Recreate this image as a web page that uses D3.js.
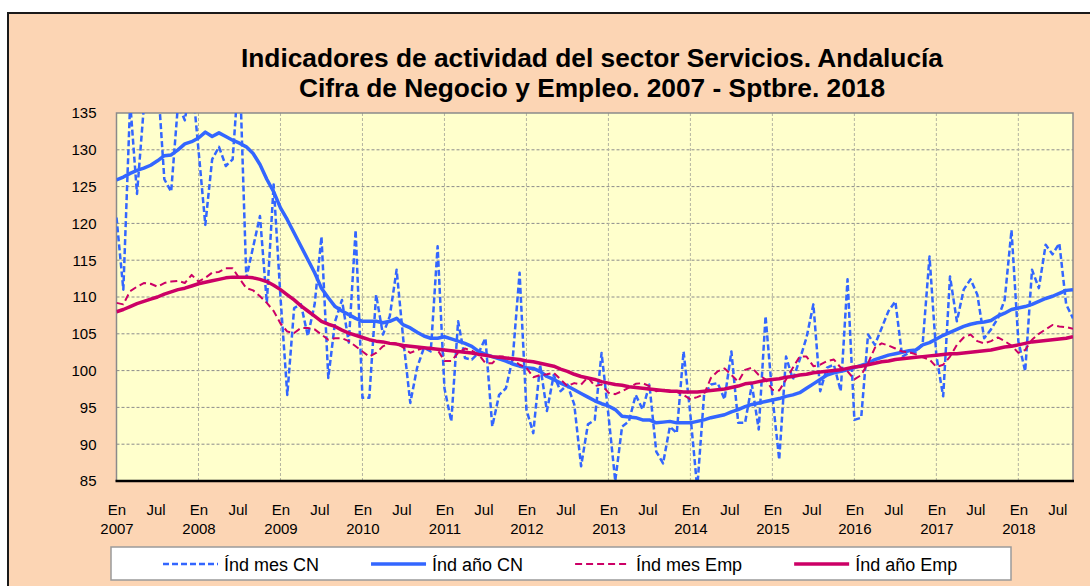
<!DOCTYPE html>
<html>
<head>
<meta charset="utf-8">
<script src="https://cdn.jsdelivr.net/npm/d3@7"></script>
<style>
  body { margin: 0; background: #ffffff; }
  svg { display: block; font-family: "Liberation Sans", Arial, sans-serif; }
</style>
</head>
<body>
<div id="chart"></div>
<script>
// ---- data (monthly, En 2007 - Sep 2018) ----
var years = [2007, 2008, 2009, 2010, 2011, 2012, 2013, 2014, 2015, 2016, 2017, 2018];
var monthLabels = ["En", "Jul"];
var yTicks = [85, 90, 95, 100, 105, 110, 115, 120, 125, 130, 135];
var seriesNames = ["Índ mes CN", "Índ año CN", "Índ mes Emp", "Índ año Emp"];

var mesCN = [
  120.8, 111.0, 136.5, 124.0, 135.8, 142.0, 140.0, 126.0, 124.3, 136.2, 134.0, 140.0,
  130.0, 119.8, 128.7, 130.4, 127.8, 128.7, 142.0, 112.6, 116.8, 121.0, 109.2, 125.3,
  110.0, 96.7, 108.5, 109.0, 104.7, 109.0, 118.2, 99.0, 106.7, 109.6, 103.8, 119.1,
  96.3, 96.3, 110.3, 104.9, 107.4, 113.7, 104.0, 95.6, 100.4, 103.1, 102.6, 116.9,
  97.6, 93.1, 106.7, 101.7, 101.5, 102.4, 104.4, 92.4, 96.7, 97.6, 101.7, 113.3,
  94.7, 91.5, 100.8, 94.5, 99.4, 97.2, 98.1, 95.4, 87.0, 92.7, 93.3, 102.4,
  94.0, 85.0, 92.4, 93.1, 96.7, 94.7, 98.1, 89.0, 87.4, 92.4, 91.5, 102.6,
  94.0, 84.0, 96.7, 98.1, 98.3, 96.1, 102.6, 92.9, 92.9, 98.1, 92.0, 107.4,
  96.5, 87.9, 101.9, 98.8, 101.5, 104.5, 109.0, 97.2, 100.4, 100.8, 97.2, 112.4,
  93.3, 93.6, 104.9, 103.5, 105.8, 108.1, 109.4, 101.9, 102.4, 102.5, 103.7, 115.5,
  102.0, 96.5, 112.8, 106.7, 111.0, 112.4, 110.3, 104.4, 105.6, 107.1, 109.6, 119.1,
  104.0, 99.9, 113.7, 111.2, 117.1, 115.8, 117.3, 109.0, 107.1
];

var anoCN = [
  125.9, 126.3, 126.8, 127.2, 127.5, 127.9, 128.5, 129.2, 129.3, 130.0, 130.8, 131.1,
  131.6, 132.4, 131.8, 132.3, 131.8, 131.3, 130.9, 130.4, 129.5, 128.0, 126.0, 124.3,
  122.1, 120.5, 118.7, 116.9, 115.1, 113.3, 111.2, 109.9, 108.7, 108.1, 107.6, 107.1,
  106.7, 106.7, 106.7, 106.5, 106.7, 107.1, 106.2, 105.8, 105.2, 104.7, 104.4, 104.4,
  104.6, 104.3, 104.0, 103.7, 103.3, 102.6, 102.2, 101.9, 101.6, 101.3, 100.9, 100.6,
  100.4, 100.3, 99.9, 99.2, 98.8, 98.3, 97.9, 97.4, 96.9, 96.4, 95.9, 95.5,
  95.2, 94.7, 93.8, 93.7, 93.6, 93.3, 93.3, 92.9, 93.0, 93.1, 92.9, 92.9,
  92.9, 93.1, 93.3, 93.6, 93.8, 94.0, 94.4, 94.7, 95.1, 95.4, 95.6, 95.8,
  96.0, 96.2, 96.5, 96.7, 97.0, 97.6, 98.2, 98.8, 99.4, 99.7, 99.9, 100.1,
  100.4, 100.7, 101.0, 101.5, 101.8, 102.1, 102.3, 102.5, 102.7, 102.8, 103.5, 103.8,
  104.3, 104.8, 105.2, 105.6, 106.0, 106.3, 106.5, 106.6, 106.8, 107.4, 107.8, 108.3,
  108.5, 108.7, 109.0, 109.4, 109.8, 110.1, 110.5, 110.9, 111.0
];

var mesEmp = [
  109.2, 109.0, 110.8, 111.4, 111.9, 111.8, 111.4, 111.9, 112.1, 112.2, 111.9, 113.0,
  112.1, 112.6, 113.3, 113.4, 113.9, 113.9, 112.5, 111.2, 110.9, 110.1, 109.2, 108.1,
  106.4, 105.3, 105.1, 105.8, 105.8, 105.6, 104.9, 104.2, 104.4, 104.4, 104.0, 103.3,
  102.6, 101.9, 102.4, 103.3, 103.7, 103.7, 103.1, 102.4, 102.8, 103.1, 103.1, 102.8,
  101.3, 101.3, 102.4, 103.0, 102.7, 102.2, 101.0, 101.0, 101.9, 101.9, 101.5, 100.8,
  100.4, 99.1, 99.4, 99.5, 99.7, 98.8, 97.9, 98.3, 98.1, 99.1, 97.9, 98.1,
  97.0, 96.8, 97.2, 97.7, 98.2, 98.3, 97.9, 97.2, 97.4, 97.3, 97.1, 96.7,
  96.1, 96.4, 96.8, 99.0, 99.9, 100.3, 99.4, 98.5, 100.1, 100.4, 99.4, 98.8,
  97.4, 97.3, 98.8, 100.4, 101.9, 101.9, 100.6, 100.8, 101.3, 101.5, 100.4, 99.9,
  98.8, 99.4, 101.0, 103.1, 103.7, 103.4, 103.0, 102.6, 102.5, 102.2, 101.8, 101.5,
  100.5, 100.8, 101.9, 103.5, 104.5, 104.9, 104.0, 103.7, 104.0, 104.5, 104.0, 103.4,
  102.4, 102.8, 104.2, 105.0, 105.6, 106.2, 106.0, 105.9, 105.7
];

var anoEmp = [
  108.0, 108.3, 108.7, 109.1, 109.4, 109.7, 110.0, 110.4, 110.7, 111.0, 111.2, 111.5,
  111.8, 112.0, 112.2, 112.4, 112.6, 112.7, 112.7, 112.7, 112.6, 112.4, 112.1, 111.6,
  111.0, 110.3, 109.6, 108.8, 108.1, 107.4, 106.7, 106.3, 106.0, 105.5, 105.1, 104.8,
  104.5, 104.2, 104.0, 103.9, 103.7, 103.6, 103.4, 103.3, 103.2, 103.1, 103.0, 102.9,
  102.8, 102.7, 102.6, 102.5, 102.4, 102.2, 102.1, 101.9, 101.8, 101.7, 101.6, 101.5,
  101.3, 101.2, 101.0, 100.8, 100.6, 100.2, 99.9, 99.5, 99.2, 99.0, 98.8, 98.5,
  98.3, 98.1, 98.0, 97.8, 97.7, 97.6, 97.5, 97.4, 97.3, 97.2, 97.2, 97.1,
  97.1, 97.1, 97.2, 97.3, 97.4, 97.5, 97.7, 97.9, 98.2, 98.3, 98.5, 98.7,
  98.8, 98.9, 99.1, 99.2, 99.4, 99.5, 99.7, 99.8, 99.9, 100.0, 100.1, 100.3,
  100.5, 100.6, 100.8, 101.0, 101.2, 101.3, 101.5, 101.6, 101.7, 101.8, 101.9, 102.0,
  102.1, 102.2, 102.3, 102.3, 102.4, 102.5, 102.6, 102.7, 102.8, 103.0, 103.2, 103.3,
  103.5, 103.7, 103.9, 104.0, 104.1, 104.2, 104.3, 104.4, 104.6
];

var width = 1090, height = 586;
var blue = "#3366ff", magenta = "#cc0066";

var plot = {left: 116.5, right: 1073, top: 113, bottom: 481};

var x = d3.scaleLinear().domain([0, mesCN.length - 1]).range([plot.left, plot.right]);
var y = d3.scaleLinear().domain([85, 135]).range([plot.bottom, plot.top]);

var svg = d3.select("#chart").append("svg")
    .attr("width", width)
    .attr("height", height);

// outer frame
svg.append("rect")
    .attr("x", 8).attr("y", 13)
    .attr("width", 1200).attr("height", 700)
    .attr("fill", "#fcd5b4")
    .attr("stroke", "#1a1a1a")
    .attr("stroke-width", 2);

// title
var title = svg.append("g")
    .attr("font-weight", "bold")
    .attr("font-size", 26.3)
    .attr("text-anchor", "middle");
title.append("text").attr("x", 592).attr("y", 67)
    .text("Indicadores de actividad del sector Servicios. Andalucía");
title.append("text").attr("x", 592).attr("y", 97)
    .text("Cifra de Negocio y Empleo. 2007 - Sptbre. 2018");

// plot area
svg.append("rect")
    .attr("x", plot.left).attr("y", plot.top)
    .attr("width", plot.right - plot.left)
    .attr("height", plot.bottom - plot.top)
    .attr("fill", "#ffffcc");

svg.append("defs").append("clipPath").attr("id", "clip")
  .append("rect")
    .attr("x", plot.left).attr("y", plot.top)
    .attr("width", plot.right - plot.left)
    .attr("height", plot.bottom - plot.top);

// grid
var grid = svg.append("g");
grid.selectAll("line.h")
    .data(yTicks.filter(function(d) { return d > 85 && d < 135; }))
    .enter().append("line")
    .attr("x1", plot.left).attr("x2", plot.right)
    .attr("y1", function(d) { return y(d); })
    .attr("y2", function(d) { return y(d); })
    .attr("stroke", "#8c8c8c")
    .attr("stroke-width", 1)
    .attr("stroke-dasharray", "3,2");

grid.selectAll("line.v")
    .data(years.slice(1))
    .enter().append("line")
    .attr("x1", function(d, i) { return x((i + 1) * 12); })
    .attr("x2", function(d, i) { return x((i + 1) * 12); })
    .attr("y1", plot.top).attr("y2", plot.bottom)
    .attr("stroke", "#b4b4a0")
    .attr("stroke-width", 1)
    .attr("stroke-dasharray", "3,2");

// plot border (top, right, left)
svg.append("path")
    .attr("d", "M" + plot.left + "," + plot.bottom + "V" + plot.top + "H" + plot.right + "V" + plot.bottom)
    .attr("fill", "none")
    .attr("stroke", "#8a8a8a")
    .attr("stroke-width", 1.5);

// series
var line = d3.line()
    .x(function(d, i) { return x(i); })
    .y(function(d) { return y(d); });

var series = [
  {values: mesCN, color: blue, width: 2.5, dash: "6,3"},
  {values: anoCN, color: blue, width: 3.5, dash: null},
  {values: mesEmp, color: magenta, width: 2, dash: "7,4"},
  {values: anoEmp, color: magenta, width: 3.5, dash: null}
];

var lines = svg.append("g").attr("clip-path", "url(#clip)");
lines.selectAll("path")
    .data(series)
    .enter().append("path")
    .attr("d", function(s) { return line(s.values); })
    .attr("fill", "none")
    .attr("stroke", function(s) { return s.color; })
    .attr("stroke-width", function(s) { return s.width; })
    .attr("stroke-dasharray", function(s) { return s.dash; })
    .attr("stroke-linejoin", "round");

// bottom axis line
svg.append("line")
    .attr("x1", plot.left - 1).attr("x2", plot.right + 1)
    .attr("y1", plot.bottom).attr("y2", plot.bottom)
    .attr("stroke", "#000")
    .attr("stroke-width", 2.5);

// y axis
var yAxis = d3.axisLeft(y).tickValues(yTicks).tickSize(0).tickPadding(20);
var gy = svg.append("g")
    .attr("transform", "translate(" + plot.left + ",0)")
    .call(yAxis);
gy.select(".domain").remove();
gy.selectAll("text")
    .attr("font-family", "'Liberation Sans', Arial, sans-serif")
    .attr("font-size", 15)
    .attr("fill", "#000");

// x axis
var xTicks = d3.range(0, mesCN.length, 6);
var xAxis = d3.axisBottom(x).tickValues(xTicks).tickSize(0)
    .tickFormat(function(d) { return monthLabels[(d % 12) / 6]; });
var gx = svg.append("g")
    .attr("transform", "translate(0," + plot.bottom + ")")
    .call(xAxis);
gx.select(".domain").remove();
gx.selectAll("text")
    .attr("font-family", "'Liberation Sans', Arial, sans-serif")
    .attr("font-size", 15)
    .attr("fill", "#000")
    .attr("dy", null)
    .attr("y", 34)
    .attr("x", function(d) { return d % 12 === 0 ? 0 : -2; });
gx.selectAll(".tick")
    .filter(function(d) { return d % 12 === 0; })
    .append("text")
    .attr("font-family", "'Liberation Sans', Arial, sans-serif")
    .attr("font-size", 15)
    .attr("fill", "#000")
    .attr("text-anchor", "middle")
    .attr("y", 53)
    .text(function(d) { return years[d / 12]; });

// legend
var legend = svg.append("g");
legend.append("rect")
    .attr("x", 111).attr("y", 547)
    .attr("width", 900).attr("height", 33)
    .attr("fill", "#ffffff")
    .attr("stroke", "#9a9a9a")
    .attr("stroke-width", 1.5);

var lx = 163;
series.forEach(function(s, i) {
  legend.append("line")
      .attr("x1", lx).attr("x2", lx + 55)
      .attr("y1", 564).attr("y2", 564)
      .attr("stroke", s.color)
      .attr("stroke-width", s.width)
      .attr("stroke-dasharray", s.dash);
  var t = legend.append("text")
      .attr("x", lx + 61).attr("y", 571)
      .attr("font-size", 18)
      .text(seriesNames[i]);
  lx += 61 + t.node().getComputedTextLength() + 52;
});
</script>
</body>
</html>
